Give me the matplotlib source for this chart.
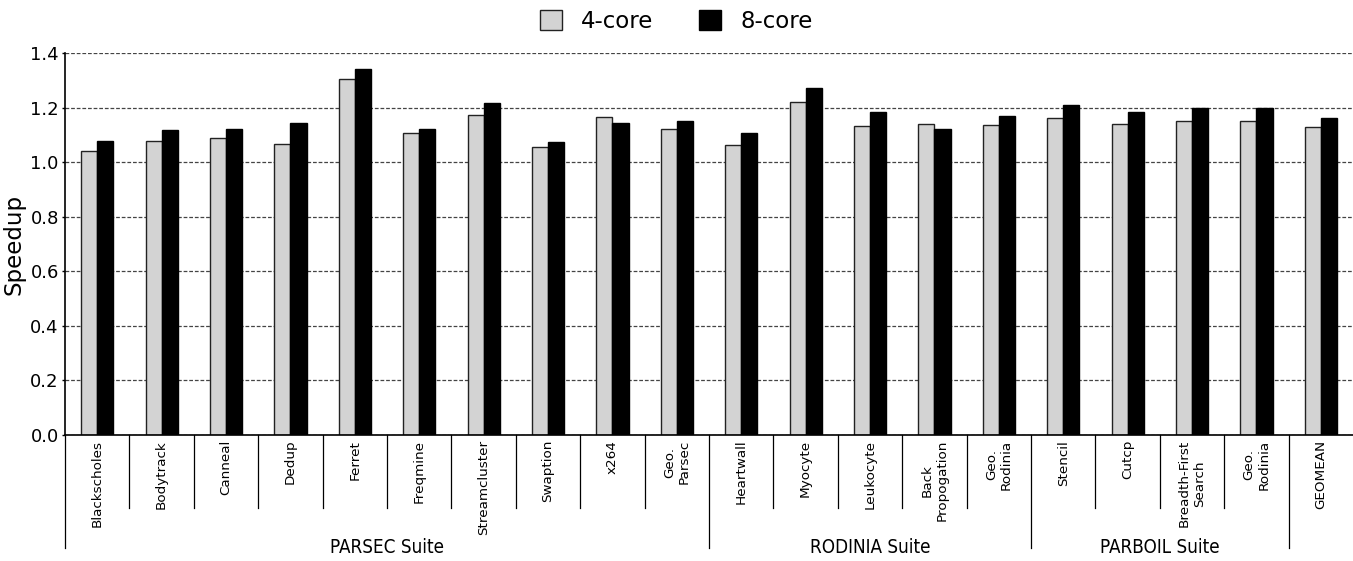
import matplotlib
matplotlib.use("Agg")
import matplotlib.pyplot as plt
import matplotlib.transforms as mtransforms
import numpy as np

benchmarks = ["Blackscholes", "Bodytrack", "Canneal", "Dedup", "Ferret", "Freqmine",
              "Streamcluster", "Swaption", "x264", "Geo.\nParsec",
              "Heartwall", "Myocyte", "Leukocyte", "Back\nPropogation", "Geo.\nRodinia",
              "Stencil", "Cutcp", "Breadth-First\nSearch", "Geo.\nRodinia", "GEOMEAN"]
speedup_4core = [1.040, 1.078, 1.088, 1.065, 1.305, 1.108, 1.172, 1.054, 1.165, 1.121,
                 1.061, 1.222, 1.131, 1.140, 1.137,
                 1.161, 1.140, 1.151, 1.151, 1.129]
speedup_8core = [1.076, 1.118, 1.120, 1.143, 1.340, 1.122, 1.215, 1.075, 1.145, 1.149,
                 1.108, 1.273, 1.182, 1.122, 1.170,
                 1.211, 1.182, 1.198, 1.198, 1.162]
suite_names = ["PARSEC Suite", "RODINIA Suite", "PARBOIL Suite"]
suite_spans = [(0, 9), (10, 14), (15, 18)]
yticks = [0.0, 0.2, 0.4, 0.6, 0.8, 1.0, 1.2, 1.4]

fig = plt.figure(figsize=(13.53, 5.61), dpi=100)
ax = fig.add_axes([65 / 1353, 126 / 561, 1 - 65 / 1353, 382 / 561])

x = np.arange(len(benchmarks))
w = 0.25
ax.bar(x - w / 2, speedup_4core, w, color="#d3d3d3", edgecolor="#222222",
       linewidth=1.0, label="4-core", zorder=2)
ax.bar(x + w / 2, speedup_8core, w, color="black", edgecolor="black",
       linewidth=1.0, label="8-core", zorder=2)

ax.set_xlim(-0.5, len(benchmarks) - 0.5)
ax.set_ylim(0, 1.4)
ax.set_yticks(yticks)
ax.set_yticklabels([f"{v:.1f}" for v in yticks], fontsize=13)
ax.yaxis.grid(True, linestyle=(0, (3, 1.5)), color="#444444", linewidth=0.9, zorder=3)
ax.set_ylabel("Speedup", fontsize=16.5, labelpad=3)

for s in ["top", "right"]:
    ax.spines[s].set_visible(False)
ax.spines["left"].set_linewidth(1.2)
ax.spines["bottom"].set_linewidth(1.2)
ax.tick_params(axis="y", length=2.5, width=1, pad=2)

ax.set_xticks(x)
ax.set_xticklabels(benchmarks, rotation=90, fontsize=9.7, multialignment="center")
ax.tick_params(axis="x", length=0, pad=3.5)

# separators below the axis: short between benchmarks, long between suites
trans = mtransforms.blended_transform_factory(ax.transData, ax.transAxes)
short_y = -73 / 382
long_y = -113 / 382
long_positions = [-0.5, 9.5, 14.5, 18.5]
for b in np.arange(0.5, len(benchmarks) - 0.5, 1.0):
    if b in long_positions:
        continue
    ax.plot([b, b], [0, short_y], transform=trans, color="black", lw=0.9,
            clip_on=False)
for b in long_positions:
    ax.plot([b, b], [0, long_y], transform=trans, color="black", lw=0.9,
            clip_on=False)

for name, (a, b) in zip(suite_names, suite_spans):
    ax.text((a + b) / 2, -112.5 / 382, name, transform=trans, ha="center",
            va="center", fontsize=13.5, family="DejaVu Sans",
            fontstretch="condensed")

fig.legend(loc="upper center", bbox_to_anchor=(0.5, 0.999), ncol=2, frameon=False,
           fontsize=16.5, handlelength=0.95, handleheight=0.95,
           handletextpad=0.85, columnspacing=2.0, borderaxespad=0.0)

fig.savefig("out.png", dpi=100)
